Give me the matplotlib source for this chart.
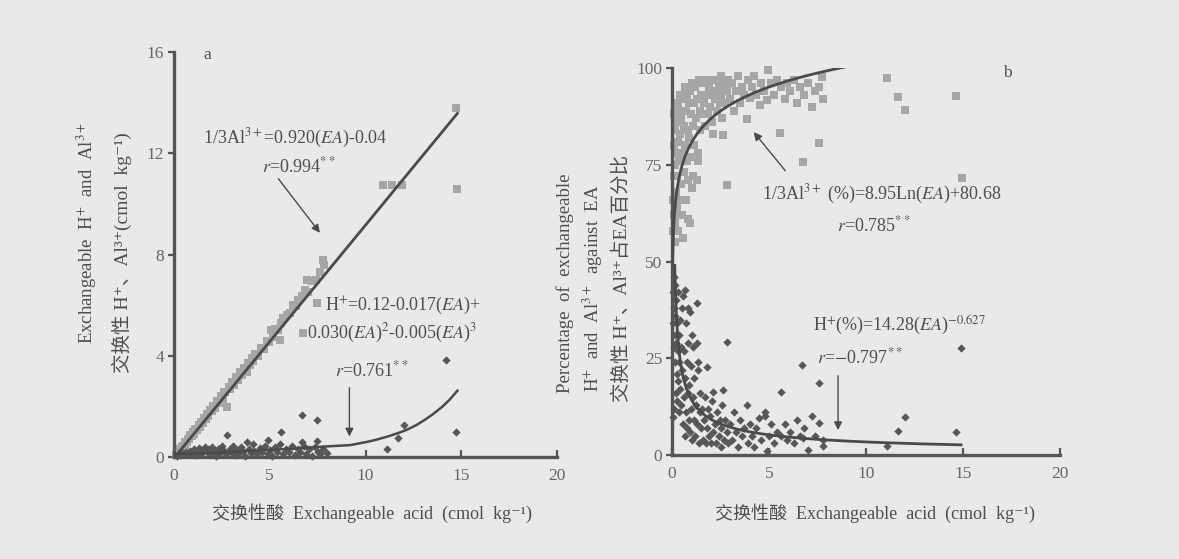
import numpy as np
import matplotlib
matplotlib.use("Agg")
import matplotlib.pyplot as plt

plt.rcParams["font.family"] = ["Liberation Serif", "Noto Sans CJK SC", "DejaVu Serif"]
plt.rcParams["mathtext.fontset"] = "stix"

W, H, DPI = 1179, 559, 100
BG = "#e9e9e7"
AXC = "#555555"
TXT = "#4e4e4e"
TICKC = "#666666"
SQ = "#a6a6a6"
DM = "#575757"
LINEC = "#4a4a4a"

# ---------------- panel a: H+ and Al3+ (cmol/kg) vs exchangeable acid ----------------
al_ea = [0.12, 0.18, 0.25, 0.30, 0.36, 0.42, 0.48, 0.55, 0.60, 0.66, 0.72, 0.80, 0.86, 0.92,
         1.00, 1.05, 1.12, 1.20, 1.28, 1.35, 1.42, 1.50, 1.58, 1.65, 1.72, 1.80, 1.90, 1.98,
         2.05, 2.15, 2.25, 2.35, 2.45, 2.55, 2.62, 2.66, 2.77, 2.85, 2.95, 3.05, 3.15, 3.25,
         3.35, 3.45, 3.55, 3.65, 3.81, 3.85, 3.95, 4.05, 4.15, 4.25, 4.40, 4.55, 4.70, 4.85,
         4.95, 5.05, 5.15, 5.30, 5.45, 5.53, 5.60, 5.70, 5.90, 6.05, 6.20, 6.35, 6.50, 6.70,
         6.74, 6.85, 6.95, 7.00, 7.20, 7.40, 7.45, 7.60, 7.78, 7.85,
         10.9, 11.4, 11.9, 14.8, 14.7]
al_cmol = [0.08, 0.14, 0.20, 0.30, 0.30, 0.38, 0.45, 0.48, 0.60, 0.58, 0.70, 0.72, 0.85, 0.82,
           0.98, 0.92, 1.10, 1.08, 1.25, 1.20, 1.38, 1.35, 1.55, 1.50, 1.68, 1.62, 1.85, 1.80,
           2.00, 1.95, 2.20, 2.12, 2.40, 2.30, 2.55, 2.57, 1.98, 2.75, 2.70, 2.95, 2.85, 3.15,
           3.05, 3.35, 3.25, 3.50, 3.36, 3.70, 3.65, 3.90, 3.80, 4.05, 4.00, 4.30, 4.25, 4.60,
           4.55, 5.00, 4.75, 5.05, 5.00, 4.62, 5.30, 5.50, 5.60, 5.70, 6.00, 5.95, 6.20, 6.35,
           4.90, 6.60, 7.00, 6.50, 6.95, 7.00, 6.09, 7.30, 7.79, 7.60,
           10.75, 10.75, 10.75, 10.60, 13.80]

h_ea = [0.15, 0.25, 0.35, 0.45, 0.55, 0.65, 0.75, 0.85, 0.95, 1.05, 1.10, 1.20, 1.30, 1.40,
        1.50, 1.60, 1.70, 1.80, 1.90, 2.00, 2.10, 2.20, 2.30, 2.40, 2.50, 2.60, 2.70, 2.90,
        3.00, 3.10, 3.20, 3.30, 3.40, 3.50, 3.60, 3.70, 3.90, 4.00, 4.10, 4.20, 4.35, 4.50,
        4.60, 4.75, 4.90, 5.00, 5.10, 5.25, 5.40, 5.55, 5.70, 5.85, 6.00, 6.15, 6.30, 6.45,
        6.60, 6.80, 6.90, 7.05, 7.20, 7.35, 7.50, 7.65, 7.80, 8.00,
        2.78, 3.80, 4.90, 5.60, 6.67, 7.45, 7.45, 6.70, 11.1, 11.7, 12.0, 14.2, 14.7]
h_cmol = [0.05, 0.10, 0.08, 0.15, 0.12, 0.20, 0.10, 0.25, 0.15, 0.30, 0.08, 0.20, 0.35, 0.12,
          0.25, 0.40, 0.18, 0.30, 0.10, 0.38, 0.22, 0.05, 0.30, 0.15, 0.42, 0.25, 0.10, 0.32,
          0.18, 0.45, 0.08, 0.28, 0.15, 0.38, 0.22, 0.05, 0.30, 0.15, 0.50, 0.25, 0.10, 0.35,
          0.20, 0.42, 0.12, 0.28, 0.05, 0.38, 0.20, 0.50, 0.10, 0.30, 0.18, 0.45, 0.08, 0.32,
          0.20, 0.42, 0.12, 0.30, 0.05, 0.38, 0.20, 0.10, 0.30, 0.15,
          0.86, 0.58, 0.68, 0.97, 1.65, 1.45, 0.64, 0.58, 0.31, 0.74, 1.26, 3.85, 0.99]

# fitted cubic for H+
h_fit_ea = [0.05, 1.0, 2.0, 3.0, 4.0, 5.0, 6.0, 7.0, 8.0, 9.2, 10.1, 10.6, 11.2, 11.8, 12.2,
            12.7, 13.1, 13.5, 14.0, 14.4, 14.8]
h_fit_val = [0.12, 0.14, 0.17, 0.20, 0.24, 0.28, 0.32, 0.37, 0.42, 0.47, 0.60, 0.69, 0.82,
             0.97, 1.09, 1.28, 1.47, 1.68, 1.98, 2.27, 2.62]

al_slope, al_icpt = 0.920, -0.04

# ---------------- panel b: percentage of EA ----------------
alp_ea = [0.05, 0.06, 0.08, 0.10, 0.10, 0.12, 0.13, 0.15, 0.16, 0.18, 0.20, 0.20, 0.22, 0.25,
          0.25, 0.28, 0.30, 0.30, 0.33, 0.35, 0.36, 0.38, 0.40, 0.42, 0.45, 0.47, 0.50, 0.50,
          0.55, 0.58, 0.60, 0.62, 0.65, 0.68, 0.70, 0.72, 0.75, 0.78, 0.80, 0.82, 0.85, 0.88,
          0.90, 0.93, 0.95, 0.98, 1.00, 1.03, 1.05, 1.08, 1.10, 1.12, 1.15, 1.20, 1.22, 1.27,
          1.30, 1.33, 1.36, 1.40, 1.42, 1.45, 1.50,
          1.55, 1.60, 1.65, 1.70, 1.75, 1.80, 1.85, 1.90, 1.95, 2.00, 2.05, 2.13, 2.10, 2.20,
          2.25, 2.30, 2.40, 2.45, 2.50, 2.55, 2.60, 2.65, 2.70, 2.75, 2.82, 2.85, 2.90, 3.00,
          3.10, 3.20, 3.30, 3.40, 3.50, 3.60, 3.70, 3.88, 3.90, 4.02, 4.10, 4.25, 4.35, 4.54,
          4.60, 4.75, 4.88, 4.97, 5.10, 5.25, 5.40, 5.57, 5.60, 5.80, 5.95,
          6.10, 6.30, 6.45, 6.60, 6.77, 6.80, 7.00, 7.20, 7.35, 7.59, 7.59, 7.72, 7.80,
          11.07, 11.67, 12.0, 14.64, 14.93]
alp_pct = [58, 66, 72, 62, 80, 88, 55, 60, 75, 84, 68, 91, 78, 86,
           64, 72, 90, 81, 58, 76, 88, 66, 93, 83, 70, 87, 78, 62,
           92, 56, 85, 73, 95, 80, 66, 89, 76, 93, 84, 61, 71, 91,
           82, 60, 94, 77, 88, 69, 96, 85, 72, 91, 80, 95, 87, 71,
           92, 78, 76, 97, 89, 84, 93,
           88, 96, 91, 85, 97, 93, 88, 95, 90, 97, 86, 83, 94, 92,
           97, 89, 95, 91, 98, 93, 87, 82.7, 96, 91, 69.8, 94, 97, 92,
           96, 89, 94, 98, 91, 95, 93, 86.7, 97, 92.2, 95, 98, 93, 90.4,
           96, 94, 91.7, 99.5, 96, 93, 97, 83.3, 95, 92, 96,
           94, 97, 91, 95, 75.8, 93, 96, 90, 94, 80.7, 95.2, 97.8, 92,
           97.3, 92.4, 89.1, 92.8, 71.7]

hp_ea = [0.05, 0.05, 0.06, 0.08, 0.10, 0.10, 0.12, 0.13, 0.15, 0.16, 0.18, 0.20, 0.20, 0.22,
         0.25, 0.25, 0.28, 0.30, 0.30, 0.33, 0.35, 0.36, 0.38, 0.40, 0.42, 0.45, 0.47, 0.50, 0.50,
         0.55, 0.58, 0.60, 0.62, 0.65, 0.67, 0.68, 0.70, 0.72, 0.75, 0.78, 0.80, 0.82, 0.85,
         0.88, 0.90, 0.93, 0.95, 0.98, 1.00, 1.03, 1.05, 1.08, 1.10, 1.12, 1.15, 1.20, 1.22,
         1.27, 1.27, 1.30, 1.33, 1.36, 1.40, 1.42, 1.45, 1.50,
         1.55, 1.60, 1.65, 1.70, 1.75, 1.79, 1.80, 1.85, 1.90, 1.95, 2.00, 2.05, 2.10, 2.13,
         2.20, 2.25, 2.30, 2.40, 2.45, 2.50, 2.55, 2.60, 2.65, 2.70, 2.75, 2.82, 2.85, 2.90, 3.00,
         3.10, 3.20, 3.30, 3.40, 3.50, 3.60, 3.70, 3.85, 3.90, 4.00, 4.10, 4.25, 4.35, 4.50,
         4.60, 4.79, 4.79, 4.90, 5.00, 5.10, 5.25, 5.40, 5.60, 5.60, 5.80, 5.95, 6.10, 6.30,
         6.45, 6.60, 6.72, 6.75, 6.80, 7.00, 7.20, 7.35,
         7.59, 7.59, 7.78, 7.80,
         11.07, 11.67, 12.0, 14.64, 14.88]
hp_pct = [9.9, 42, 34, 28, 46, 38, 12, 31, 44, 24, 36, 16, 40, 29,
          21, 34, 14, 27, 42, 19, 31, 11, 24, 35, 17, 28, 13, 22, 38,
          8, 41, 15, 27, 5, 42.6, 20, 34, 11, 24, 7, 16, 38, 29,
          9, 18, 37, 6, 23, 12, 31, 4, 15, 28, 9, 20, 5, 13,
          28.9, 39.2, 8, 22, 24, 3, 11, 16, 7,
          12, 4, 9, 15, 3, 22.8, 7, 12, 5, 10, 3, 14, 6, 16.4,
          8, 3, 11, 5, 9, 2, 7, 13, 16.8, 4, 9, 29.3, 6, 3, 8,
          4, 11, 6, 2, 9, 5, 7, 12.9, 3, 8, 5, 2, 7, 9.6,
          4, 11.2, 10.1, 1, 5, 8, 3, 6, 16.4, 5, 8, 4, 6, 3,
          9, 5, 23.3, 4.4, 7, 1.3, 10, 5,
          18.7, 8.2, 2.2, 4,
          2.2, 6.3, 9.9, 5.9, 27.6]

ln_a, ln_b = 8.95, 80.68
pw_a, pw_b = 14.28, -0.627

XLABEL = "交换性酸  Exchangeable  acid  (cmol  kg⁻¹)"

fig = plt.figure(figsize=(W / DPI, H / DPI), dpi=DPI, facecolor=BG)


def style_axes(ax, xmax, ymax, yticks):
    ax.set_facecolor("none")
    ax.set_xlim(0, xmax)
    ax.set_ylim(0, ymax)
    for s in ("top", "right"):
        ax.spines[s].set_visible(False)
    for s in ("left", "bottom"):
        ax.spines[s].set_color(AXC)
        ax.spines[s].set_linewidth(2.4)
    ax.set_xticks([0, 5, 10, 15, 20])
    ax.set_yticks(yticks)
    ax.tick_params(axis="x", direction="in", length=5, width=1.6, color=AXC,
                   labelsize=12.5, labelcolor=TICKC, pad=8)
    ax.tick_params(axis="y", direction="out", length=4, width=1.6, color=AXC,
                   labelsize=12.5, labelcolor=TICKC, pad=3)


def arrow(ax, tail, head):
    ax.annotate("", xy=head, xytext=tail,
                arrowprops=dict(arrowstyle="-|>", color=LINEC, lw=1.0, mutation_scale=12))


# ---------------- panel a ----------------
axa = fig.add_axes([174 / W, 1 - 457 / H, (557 - 174) / W, (457 - 52) / H])
style_axes(axa, 20, 16, [0, 4, 8, 12, 16])
axa.scatter(al_ea, al_cmol, marker="s", s=26, color=SQ, linewidths=0, zorder=2, clip_on=False)
axa.scatter(h_ea, h_cmol, marker="D", s=18, color=DM, linewidths=0, zorder=3, clip_on=False)
xa = np.linspace(0.05, 14.8, 50)
axa.plot(xa, al_slope * xa + al_icpt, color=LINEC, lw=2.0, zorder=4)
axa.plot(h_fit_ea, h_fit_val, color=LINEC, lw=1.8, zorder=4)

axa.text(1.75, 15.9, "a", fontsize=12.5, color=TXT, ha="center", va="center")
axa.text(1.5, 12.6, r"1/3Al$^{3+}$=0.920($EA$)-0.04", fontsize=13, color=TXT,
         ha="left", va="center")
axa.text(4.6, 11.5, r"$r$=0.994$^{**}$", fontsize=13, color=TXT, ha="left", va="center")
arrow(axa, (5.36, 11.08), (7.71, 8.77))
axa.text(7.89, 6.0, r"H$^{+}$=0.12-0.017($EA$)+", fontsize=13, color=TXT,
         ha="left", va="center")
axa.text(6.93, 4.9, r"0.030($EA$)$^{2}$-0.005($EA$)$^{3}$", fontsize=13, color=TXT,
         ha="left", va="center")
axa.text(8.4, 3.44, r"$r$=0.761$^{**}$", fontsize=13, color=TXT, ha="left", va="center")
arrow(axa, (9.16, 2.85), (9.16, 0.7))

fig.text(87 / W, 1 - 233 / H, r"Exchangeable  H$^{+}$  and  Al$^{3+}$", rotation=90,
         ha="center", va="center", fontsize=13.5, color=TXT)
fig.text(122 / W, 1 - 253 / H, "交换性 H⁺、Al³⁺(cmol  kg⁻¹)", rotation=90,
         ha="center", va="center", fontsize=14, color=TXT)
fig.text(372 / W, 1 - 513 / H, XLABEL, ha="center", va="center", fontsize=13, color=TXT)

# ---------------- panel b ----------------
axb = fig.add_axes([672 / W, 1 - 455 / H, (1060 - 672) / W, (455 - 68) / H])
style_axes(axb, 20, 100, [0, 25, 50, 75, 100])
axb.scatter(alp_ea, alp_pct, marker="s", s=26, color=SQ, linewidths=0, zorder=2, clip_on=False)
axb.scatter(hp_ea, hp_pct, marker="D", s=18, color=DM, linewidths=0, zorder=3, clip_on=False)
xl = np.linspace(0.03, 9.3, 300)
axb.plot(xl, ln_a * np.log(xl) + ln_b, color=LINEC, lw=2.0, zorder=4)
xp = np.linspace(0.14, 14.9, 300)
axb.plot(xp, pw_a * xp ** pw_b, color=LINEC, lw=2.0, zorder=4)

axb.text(17.3, 98.7, "b", fontsize=12.5, color=TXT, ha="center", va="center")
axb.text(4.64, 67.2, r"1/3Al$^{3+}$ (%)=8.95Ln($EA$)+80.68", fontsize=13, color=TXT,
         ha="left", va="center")
axb.text(8.5, 59.4, r"$r$=0.785$^{**}$", fontsize=13, color=TXT, ha="left", va="center")
arrow(axb, (5.93, 72.9), (4.12, 84.0))
axb.text(7.27, 33.6, r"H$^{+}$(%)=14.28($EA$)$^{-0.627}$", fontsize=13, color=TXT,
         ha="left", va="center")
axb.text(7.47, 25.1, r"$r$=$-$0.797$^{**}$", fontsize=13, color=TXT, ha="left", va="center")
arrow(axb, (8.56, 21.2), (8.56, 5.7))

fig.text(565 / W, 1 - 283 / H, "Percentage  of  exchangeable", rotation=90,
         ha="center", va="center", fontsize=13.5, color=TXT)
fig.text(593 / W, 1 - 288 / H, r"H$^{+}$  and  Al$^{3+}$  against  EA", rotation=90,
         ha="center", va="center", fontsize=13.5, color=TXT)
fig.text(622 / W, 1 - 278 / H, "交换性 H⁺、Al³⁺占EA百分比", rotation=90,
         ha="center", va="center", fontsize=14, color=TXT)
fig.text(875 / W, 1 - 513 / H, XLABEL, ha="center", va="center", fontsize=13, color=TXT)

fig.savefig("out.png", dpi=DPI, facecolor=BG)
